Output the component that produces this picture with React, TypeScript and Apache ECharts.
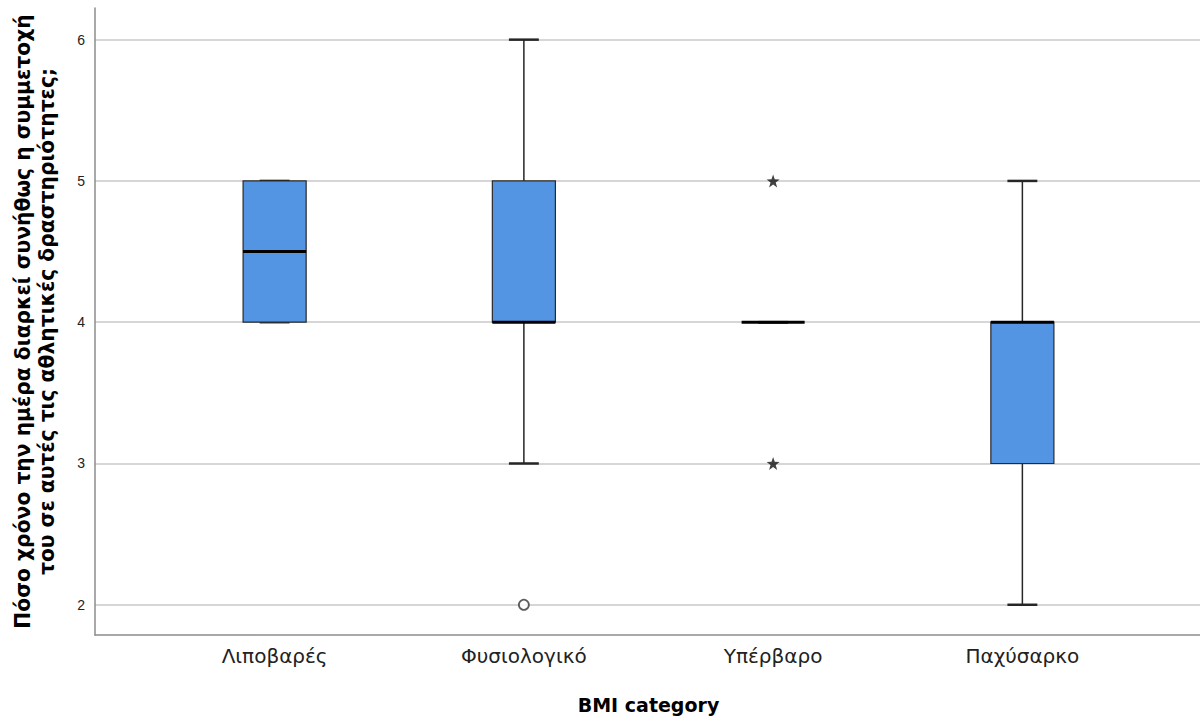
import React, { useEffect, useRef } from "react";
import * as echarts from "echarts";

// BMI categories and the box-plot statistics for each one
const categories = ["Λιποβαρές", "Φυσιολογικό", "Υπέρβαρο", "Παχύσαρκο"];
const whiskerLow = [4, 3, 4, 2];
const quartile1 = [4, 4, 4, 3];
const medians = [4.5, 4, 4, 4];
const quartile3 = [5, 5, 4, 4];
const whiskerHigh = [5, 6, 4, 5];

// outliers: [category index, value]
const mildOutliers = [[1, 2]];
const extremeOutliers = [[2, 5], [2, 3]];

const yMin = 1.786;
const yMax = 6.224;

const yTitle = "Πόσο χρόνο την ημέρα διαρκεί συνήθως η συμμετοχή\nτου σε αυτές τις αθλητικές δραστηριότητες;";
const xTitle = "BMI category";

const STAR =
  "path://M0,-10 L2.35,-3.24 L9.51,-3.09 L3.8,1.24 L5.88,8.09 L0,4 L-5.88,8.09 L-3.8,1.24 L-9.51,-3.09 L-2.35,-3.24 Z";

const FONT = "'Liberation Sans', Arial, sans-serif";
const WIDE = "'DejaVu Sans', 'Liberation Sans', sans-serif";

export default function App() {
  const ref = useRef<HTMLDivElement>(null);

  useEffect(() => {
    if (!ref.current) return;
    const chart = echarts.init(ref.current, null, { renderer: "svg" });

    const boxData = categories.map((_, i) => [
      i,
      whiskerLow[i],
      quartile1[i],
      medians[i],
      quartile3[i],
      whiskerHigh[i],
    ]);

    const renderBox = (params: any, api: any) => {
      const idx = api.value(0);
      const band = api.size([1, 0])[0];
      const bw = band * 0.253;
      const cw = band * 0.12;
      const x = api.coord([idx, 0])[0];
      const yLo = api.coord([idx, api.value(1)])[1];
      const yQ1 = api.coord([idx, api.value(2)])[1];
      const yMed = api.coord([idx, api.value(3)])[1];
      const yQ3 = api.coord([idx, api.value(4)])[1];
      const yHi = api.coord([idx, api.value(5)])[1];
      const whisk = { stroke: "#262626", lineWidth: 1.5 };
      const cap = { stroke: "#262626", lineWidth: 2.5 };
      const children: any[] = [
        { type: "line", shape: { x1: x, y1: yHi, x2: x, y2: yQ3 }, style: whisk },
        { type: "line", shape: { x1: x, y1: yQ1, x2: x, y2: yLo }, style: whisk },
        { type: "line", shape: { x1: x - cw / 2, y1: yHi, x2: x + cw / 2, y2: yHi }, style: cap },
        { type: "line", shape: { x1: x - cw / 2, y1: yLo, x2: x + cw / 2, y2: yLo }, style: cap },
      ];
      if (Math.abs(yQ1 - yQ3) > 0.5) {
        children.push({
          type: "rect",
          shape: { x: x - bw / 2, y: yQ3, width: bw, height: yQ1 - yQ3 },
          style: { fill: "#5394e3", stroke: "#2a2a2a", lineWidth: 1.2 },
        });
      }
      children.push({
        type: "line",
        shape: { x1: x - bw / 2, y1: yMed, x2: x + bw / 2, y2: yMed },
        style: { stroke: "#000", lineWidth: 3 },
      });
      return { type: "group", children };
    };

    chart.setOption({
      animation: false,
      backgroundColor: "#fff",
      grid: [
        { left: 95, right: 0, top: 8, bottom: 88 },
        { left: 150, right: 53, top: 8, bottom: 88 },
      ],
      xAxis: [
        {
          type: "value",
          gridIndex: 0,
          min: 0,
          max: 1,
          axisLine: { show: true, lineStyle: { color: "#8c8c8c", width: 1.5 } },
          axisTick: { show: false },
          axisLabel: { show: false },
          splitLine: { show: false },
        },
        {
          type: "category",
          gridIndex: 1,
          data: categories,
          axisLine: { show: false },
          axisTick: { show: false },
          splitLine: { show: false },
          axisLabel: {
            margin: 11,
            fontFamily: WIDE,
            fontSize: 20,
            color: "#222",
          },
          name: xTitle,
          nameLocation: "middle",
          nameGap: 60,
          nameTextStyle: {
            fontFamily: WIDE,
            fontSize: 19,
            fontWeight: "bold",
            color: "#000",
          },
        },
      ],
      yAxis: [
        {
          type: "value",
          gridIndex: 0,
          min: yMin,
          max: yMax,
          minInterval: 1,
          maxInterval: 1,
          axisLine: { show: true, lineStyle: { color: "#8c8c8c", width: 1.5 } },
          axisTick: { show: false },
          axisLabel: {
            margin: 10,
            fontFamily: FONT,
            fontSize: 14,
            color: "#222",
            showMinLabel: false,
            showMaxLabel: false,
          },
          splitLine: {
            show: true,
            showMinLine: false,
            showMaxLine: false,
            lineStyle: { color: "#c8c8c8", width: 1.5 },
          },
          name: yTitle,
          nameLocation: "middle",
          nameGap: 36,
          nameRotate: 90,
          nameTextStyle: {
            fontFamily: WIDE,
            fontSize: 20.3,
            fontWeight: "bold",
            color: "#000",
            lineHeight: 24,
            align: "center",
          },
        },
        {
          type: "value",
          gridIndex: 1,
          min: yMin,
          max: yMax,
          show: false,
          splitLine: { show: false },
        },
      ],
      series: [
        {
          type: "custom",
          xAxisIndex: 1,
          yAxisIndex: 1,
          data: boxData,
          encode: { x: 0, y: [1, 2, 3, 4, 5] },
          renderItem: renderBox,
          silent: true,
        },
        {
          type: "scatter",
          xAxisIndex: 1,
          yAxisIndex: 1,
          data: mildOutliers,
          symbol: "circle",
          symbolSize: 10,
          itemStyle: { color: "#fff", borderColor: "#333", borderWidth: 1.8 },
          silent: true,
        },
        {
          type: "scatter",
          xAxisIndex: 1,
          yAxisIndex: 1,
          data: extremeOutliers,
          symbol: STAR,
          symbolSize: 13,
          itemStyle: { color: "#111" },
          silent: true,
        },
      ],
    });

    return () => chart.dispose();
  }, []);

  return (
    <div
      ref={ref}
      style={{ position: "fixed", left: 0, top: 0, width: 1200, height: 723 }}
    />
  );
}
